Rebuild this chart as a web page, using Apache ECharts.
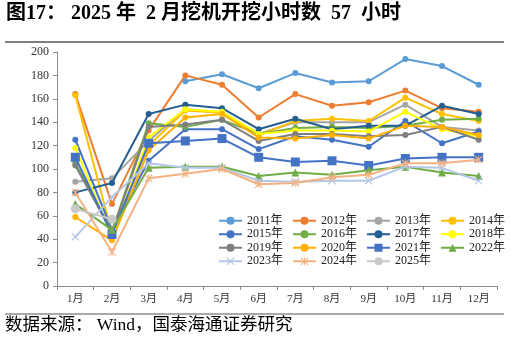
<!DOCTYPE html>
<html><head><meta charset="utf-8">
<script src="https://cdn.jsdelivr.net/npm/echarts@6/dist/echarts.min.js"></script>
<style>html,body{margin:0;padding:0;background:#fff}#c{width:510px;height:340px}</style>
</head><body><div id="c"></div>
<script>
var months = ['1月','2月','3月','4月','5月','6月','7月','8月','9月','10月','11月','12月'];
var yTicks = [0,20,40,60,80,100,120,140,160,180,200];
var titleText = '图17： 2025 年  2 月挖机开挖小时数  57  小时';
var sourceText = '数据来源： Wind，国泰海通证券研究';

var y2011 = [null,null,null,175,181,169,182,174,175,194,188,172];
var y2012 = [164,70,133,180,172,144,164,154,157,167,152,149];
var y2013 = [89,92,124,151,148,130,140,140,140,155,136,133];
var y2014 = [163,45,120,150,148,129,141,143,141,161,147,141];
var y2015 = [125,48,107,134,134,117,128,125,119,141,122,132];
var y2016 = [105,47,139,136,142,130,135,136,135,137,142,143];
var y2017 = [80,88,147,155,152,134,143,134,137,137,154,147];
var y2018 = [118,42,127,151,149,130,133,133,132,149,134,128];
var y2019 = [103,46,136,138,142,124,130,130,128,129,136,125];
var y2020 = [59,39,116,144,147,127,126,129,126,137,136,129];
var y2021 = [110,44,122,124,126,110,106,107,103,109,110,110];
var y2022 = [70,48,101,102,102,94,97,95,99,102,97,94];
var y2023 = [42,76,105,101,101,90,89,90,90,102,101,90];
var y2024 = [80,29,92,96,100,87,88,93,95,105,105,108];
var y2025 = [66,57,null,null,null,null,null,null,null,null,null,null];

var names = ['2011年','2012年','2013年','2014年','2015年','2016年','2017年','2018年','2019年','2020年','2021年','2022年','2023年','2024年','2025年'];
var datas = [y2011,y2012,y2013,y2014,y2015,y2016,y2017,y2018,y2019,y2020,y2021,y2022,y2023,y2024,y2025];
var colors = ['#5B9BD5','#ED7D31','#A5A5A5','#FFC000','#4472C4','#70AD47','#255E91','#FFFF00','#7F7F7F','#FFB000','#4472C4','#70AD47','#B4C7E7','#F4B183','#C9C9C9'];
var xPath = 'path://M0,1L1,0L5,4L9,0L10,1L6,5L10,9L9,10L5,6L1,10L0,9L4,5Z';
var starPath = 'path://M0,1L1,0L5,4L9,0L10,1L6,5L10,9L9,10L5,6L1,10L0,9L4,5Z M4.4,0L5.6,0L5.6,10L4.4,10Z';
var symbols = ['circle','circle','circle','circle','circle','circle','circle','circle','circle','circle','rect','triangle',xPath,starPath,'circle'];
var sizes = [6,6,6,6,6,6,6,6,6,6,9,8,8,8,9];

var serif = '"Liberation Serif","Noto Sans CJK SC",serif';
var series = names.map(function(n,i){
  return {name:n,type:'line',data:datas[i],symbol:symbols[i],symbolSize:sizes[i],showSymbol:true,
    connectNulls:false,lineStyle:{width:2,color:colors[i]},itemStyle:{color:colors[i]},z:2+i};
});

var cols = [['2011年','2015年','2019年','2023年'],['2012年','2016年','2020年','2024年'],['2013年','2017年','2021年','2025年'],['2014年','2018年','2022年']];
var colLefts = [218,292,366,440];
var legends = cols.map(function(c,i){
  return {data:c,left:colLefts[i],top:214,orient:'vertical',itemWidth:23,itemHeight:10,itemGap:0,padding:0,
    textStyle:{fontFamily:serif,fontSize:12,color:'#222',lineHeight:12.5,padding:[1,0,0,0]}};
});

var chart = echarts.init(document.getElementById('c'));
chart.setOption({
  animation:false,
  color:colors,
  grid:{left:57,right:13,top:52,bottom:54},
  legend:legends,
  xAxis:{type:'category',data:months,boundaryGap:true,
    axisLine:{lineStyle:{color:'#8c8c8c',width:1}},
    axisTick:{show:true,alignWithLabel:false,length:4,lineStyle:{color:'#8c8c8c'}},
    axisLabel:{fontFamily:serif,fontSize:11,color:'#333',margin:8}},
  yAxis:{type:'value',min:yTicks[0],max:yTicks[yTicks.length-1],interval:20,
    axisLine:{show:true,lineStyle:{color:'#8c8c8c',width:1}},
    axisTick:{show:true,length:4,lineStyle:{color:'#8c8c8c'}},
    splitLine:{show:false},
    axisLabel:{fontFamily:serif,fontSize:12,color:'#333',margin:8}},
  series:series,
  graphic:[
    {type:'text',left:6,top:4,style:{text:titleText,font:'bold 20px "Liberation Serif","Noto Sans CJK SC",serif',fill:'#000'}},
    {type:'line',shape:{x1:5,y1:42,x2:504,y2:42},style:{stroke:'#555',lineWidth:1.5}},
    {type:'line',shape:{x1:5,y1:314,x2:504,y2:314},style:{stroke:'#555',lineWidth:1}},
    {type:'text',left:5,top:317,style:{text:sourceText,font:'17.5px "Liberation Serif","Noto Sans CJK SC",serif',fill:'#000'}}
  ]
});
</script></body></html>
